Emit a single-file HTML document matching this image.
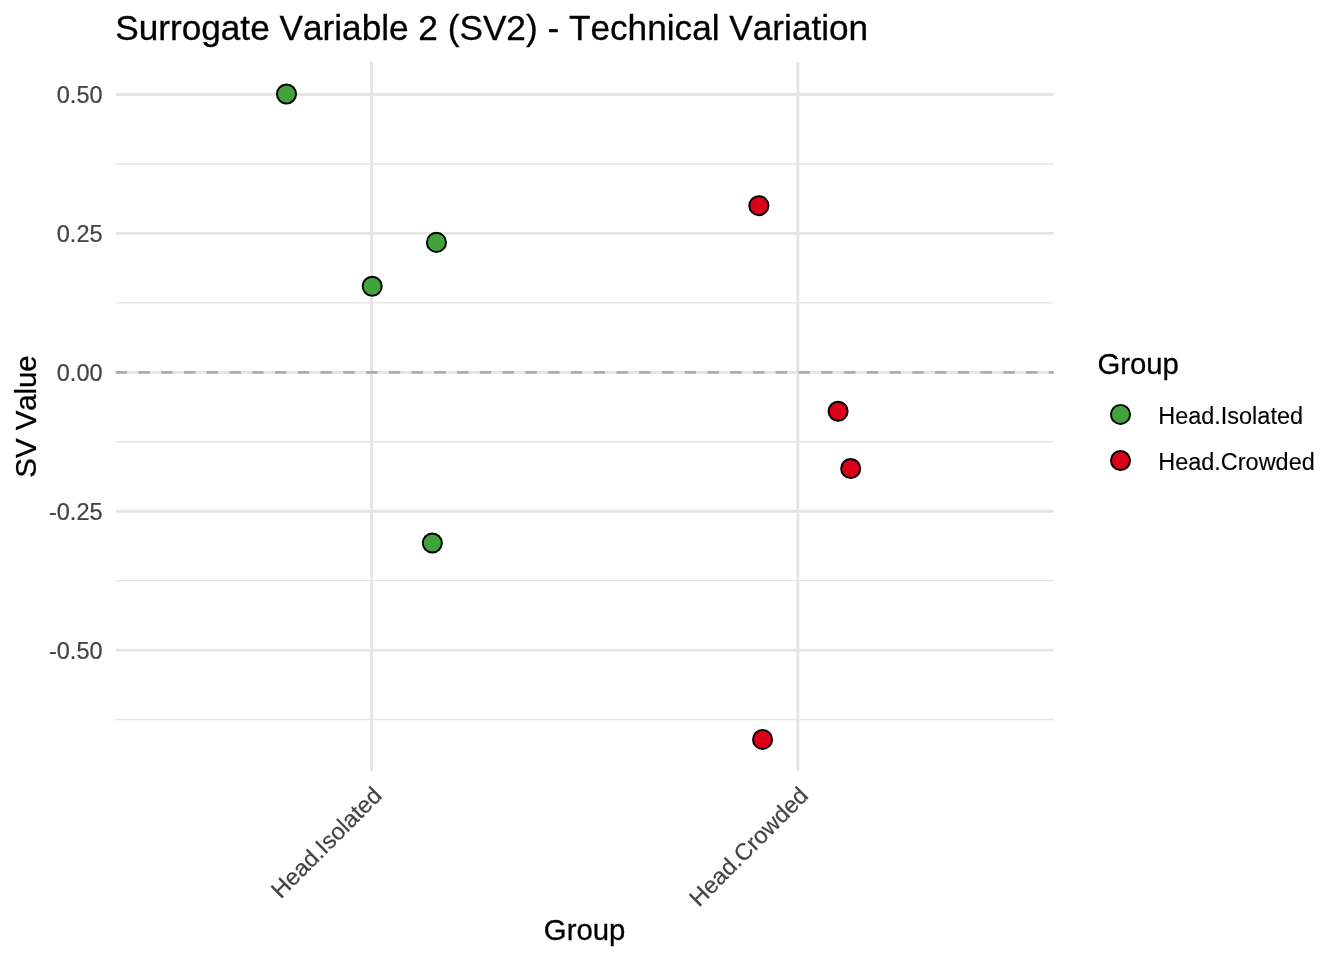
<!DOCTYPE html>
<html lang="en">
<head>
<meta charset="utf-8">
<title>Surrogate Variable 2 (SV2) - Technical Variation</title>
<style>
html,body{margin:0;padding:0;background:#fff;}
body{width:1344px;height:960px;overflow:hidden;}
svg{display:block;}
text{font-family:"Liberation Sans",Arial,Helvetica,sans-serif;font-kerning:none;}
.title{font-size:35.2px;fill:#000;stroke:#000;stroke-width:0.3;}
.axt{font-size:29.33px;fill:#000;stroke:#000;stroke-width:0.3;}
.tick{font-size:23.47px;fill:#444444;stroke:#444444;stroke-width:0.22;}
.leg{font-size:23.47px;fill:#000;stroke:#000;stroke-width:0.12;}
.gmaj{stroke:#E5E5E5;stroke-width:2.85;fill:none;}
.gmin{stroke:#E5E5E5;stroke-width:1.42;fill:none;}
.pt{stroke:#000;stroke-width:1.95;}
</style>
</head>
<body>
<svg width="1344" height="960" viewBox="0 0 1344 960">
<rect x="0" y="0" width="1344" height="960" fill="#ffffff"/>

<g id="grid-minor">
<line class="gmin" x1="115.7" x2="1053.7" y1="163.95" y2="163.95"/>
<line class="gmin" x1="115.7" x2="1053.7" y1="302.85" y2="302.85"/>
<line class="gmin" x1="115.7" x2="1053.7" y1="441.75" y2="441.75"/>
<line class="gmin" x1="115.7" x2="1053.7" y1="580.65" y2="580.65"/>
<line class="gmin" x1="115.7" x2="1053.7" y1="719.55" y2="719.55"/>
</g>
<g id="grid-major">
<line class="gmaj" x1="115.7" x2="1053.7" y1="94.50" y2="94.50"/>
<line class="gmaj" x1="115.7" x2="1053.7" y1="233.40" y2="233.40"/>
<line class="gmaj" x1="115.7" x2="1053.7" y1="372.30" y2="372.30"/>
<line class="gmaj" x1="115.7" x2="1053.7" y1="511.20" y2="511.20"/>
<line class="gmaj" x1="115.7" x2="1053.7" y1="650.10" y2="650.10"/>
<line class="gmaj" x1="371.5" x2="371.5" y1="62.0" y2="771.3"/>
<line class="gmaj" x1="797.9" x2="797.9" y1="62.0" y2="771.3"/>
</g>
<line id="zero-line" x1="115.7" x2="1053.7" y1="372.30" y2="372.30" stroke="#ADADAD" stroke-width="2.85" stroke-dasharray="11.38 11.38"/>
<g id="points">
<circle class="pt" cx="286.5" cy="94.06" r="9.55" fill="#42A33B"/>
<circle class="pt" cx="372.2" cy="286.25" r="9.55" fill="#42A33B"/>
<circle class="pt" cx="436.46" cy="242.4" r="9.55" fill="#42A33B"/>
<circle class="pt" cx="432.34" cy="542.97" r="9.55" fill="#42A33B"/>
<circle class="pt" cx="758.85" cy="205.67" r="9.55" fill="#DB0019"/>
<circle class="pt" cx="838.1" cy="411.2" r="9.55" fill="#DB0019"/>
<circle class="pt" cx="850.7" cy="468.5" r="9.55" fill="#DB0019"/>
<circle class="pt" cx="762.55" cy="739.43" r="9.55" fill="#DB0019"/>
</g>
<text class="title" x="115.2" y="40.2">Surrogate Variable 2 (SV2) - Technical Variation</text>
<g id="y-ticks" text-anchor="end">
<text class="tick" x="102.5" y="103.45">0.50</text>
<text class="tick" x="102.5" y="242.35">0.25</text>
<text class="tick" x="102.5" y="381.25">0.00</text>
<text class="tick" x="102.5" y="520.15">-0.25</text>
<text class="tick" x="102.5" y="659.05">-0.50</text>
</g>
<g id="x-ticks" text-anchor="end">
<text class="tick" transform="translate(383.2,797) rotate(-45)">Head.Isolated</text>
<text class="tick" transform="translate(809.6,797) rotate(-45)">Head.Crowded</text>
</g>
<text class="axt" text-anchor="middle" x="584.6" y="939.8">Group</text>
<text class="axt" text-anchor="middle" transform="translate(36.2,416.5) rotate(-90)">SV Value</text>
<g id="legend">
<text class="axt" x="1097.4" y="373.9">Group</text>
<circle class="pt" cx="1120.5" cy="414.4" r="9.55" fill="#42A33B"/>
<circle class="pt" cx="1120.5" cy="460.5" r="9.55" fill="#DB0019"/>
<text class="leg" x="1158.2" y="424.0">Head.Isolated</text>
<text class="leg" x="1158.2" y="470.1">Head.Crowded</text>
</g>
</svg>
</body>
</html>
